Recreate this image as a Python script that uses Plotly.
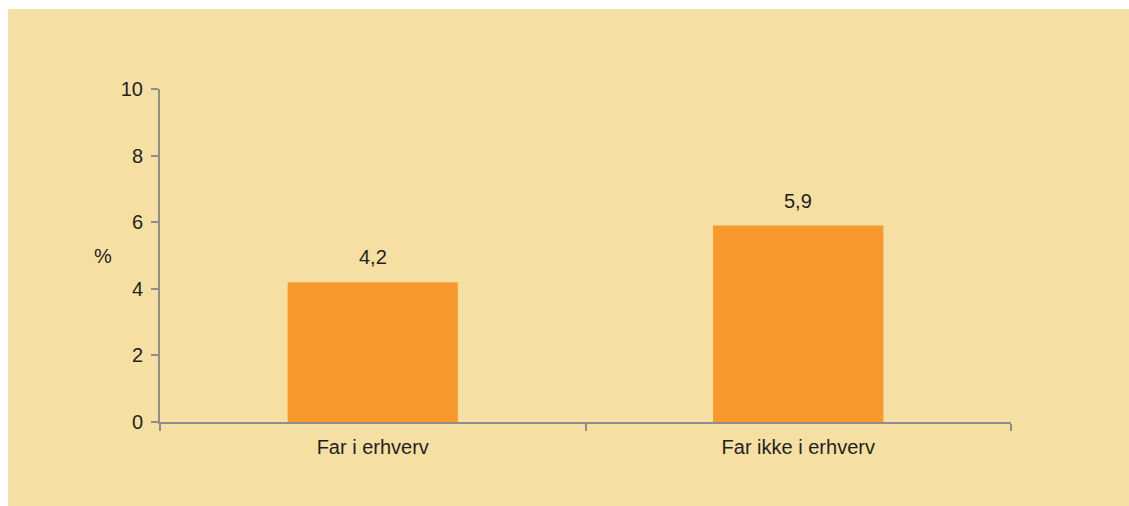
import plotly.graph_objects as go

# Share of children, by father's employment status (%)
categories = ["Far i erhverv", "Far ikke i erhverv"]
values = [4.2, 5.9]
y_ticks = [0, 2, 4, 6, 8, 10]

BG = "#F5DFA3"
BAR = "#F7992C"
AXIS = "#8E8E8E"
TEXT = "#231F20"
FONT = "Liberation Sans, Arial, sans-serif"

W, H = 1129, 506
ML, MR, MT, MB = 160, 118, 89, 84
PW, PH = W - ML - MR, H - MT - MB


def px_to_paper_x(px):
    return (px - ML) / PW


def px_to_paper_y(py):
    return (H - MB - py) / PH


fig = go.Figure(
    go.Bar(
        x=categories,
        y=values,
        marker=dict(color=BAR, line=dict(width=0)),
        width=0.4,
        hoverinfo="skip",
    )
)

# value labels above each bar
for cat, v in zip(categories, values):
    fig.add_annotation(
        x=cat, y=v, xref="x", yref="y",
        text=f"{v:.1f}".replace(".", ","),
        showarrow=False, yanchor="bottom", yshift=12,
        font=dict(family=FONT, size=20, color=TEXT),
    )

# unit label beside the value axis
fig.add_annotation(
    x=px_to_paper_x(103), y=0.5, xref="paper", yref="paper",
    text="%", showarrow=False, xanchor="center", yanchor="middle",
    font=dict(family=FONT, size=20, color=TEXT),
)

# thin white frame along the top and left edges of the beige page
fig.add_shape(
    type="rect", xref="paper", yref="paper", layer="below",
    x0=px_to_paper_x(-20), x1=px_to_paper_x(W + 20),
    y0=px_to_paper_y(9), y1=px_to_paper_y(-20),
    fillcolor="white", line=dict(width=0),
)
fig.add_shape(
    type="rect", xref="paper", yref="paper", layer="below",
    x0=px_to_paper_x(-20), x1=px_to_paper_x(8),
    y0=px_to_paper_y(H + 20), y1=px_to_paper_y(-20),
    fillcolor="white", line=dict(width=0),
)

fig.update_layout(
    width=W, height=H,
    margin=dict(l=ML, r=MR, t=MT, b=MB, pad=0),
    paper_bgcolor=BG,
    plot_bgcolor="rgba(0,0,0,0)",
    showlegend=False,
    font=dict(family=FONT, size=20, color=TEXT),
    xaxis=dict(
        type="category",
        showline=True, linecolor=AXIS, linewidth=2,
        ticks="outside", tickson="boundaries", ticklen=7,
        tickcolor=AXIS, tickwidth=2,
        showgrid=False, zeroline=False,
        ticklabelstandoff=6,
        tickfont=dict(family=FONT, size=20, color=TEXT),
    ),
    yaxis=dict(
        range=[0, 10], tickvals=y_ticks,
        showline=True, linecolor=AXIS, linewidth=2,
        ticks="outside", ticklen=7, tickcolor=AXIS, tickwidth=2,
        showgrid=False, zeroline=False,
        ticklabelstandoff=4,
        tickfont=dict(family=FONT, size=20, color=TEXT),
    ),
)

fig.write_html("out.html")
